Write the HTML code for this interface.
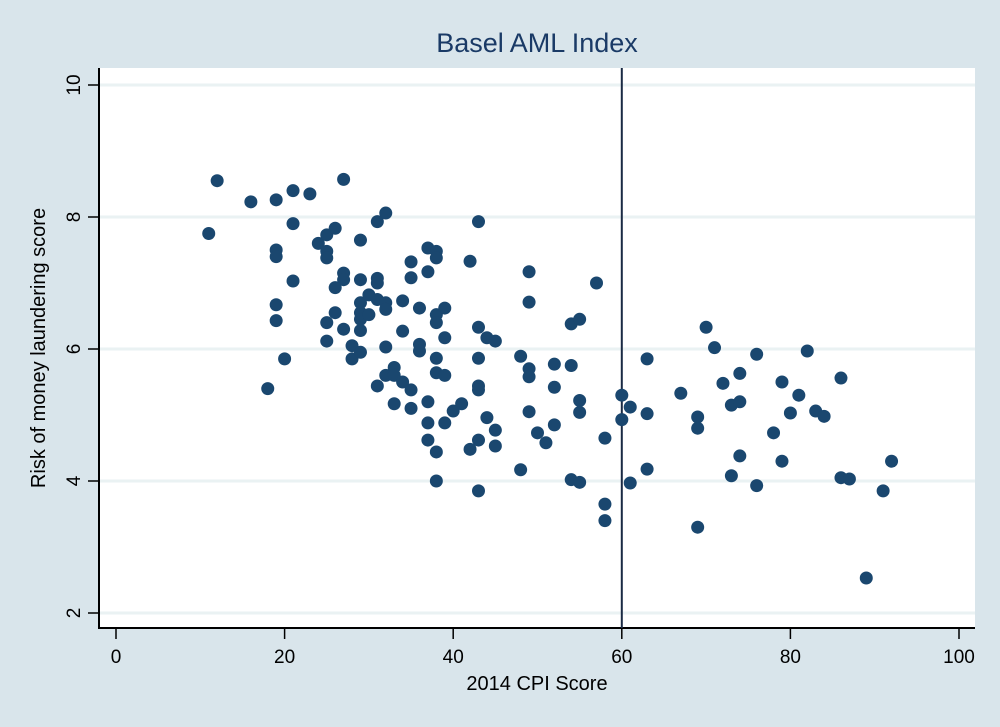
<!DOCTYPE html>
<html><head><meta charset="utf-8"><style>
html,body{margin:0;padding:0;background:#d9e5eb;}
svg{display:block;font-family:"Liberation Sans",sans-serif;}
</style></head><body>
<svg id="chart" width="1000" height="727">
<rect x="0" y="0" width="1000" height="727" fill="#d9e5eb"/>
<rect x="99" y="68" width="876" height="560" fill="#ffffff"/>
<text x="537" y="52" font-size="27" fill="#1a3a66" text-anchor="middle">Basel AML Index</text>
<text x="537" y="690" font-size="20" fill="#000" text-anchor="middle">2014 CPI Score</text>
<text transform="translate(45,348) rotate(-90)" font-size="20" fill="#000" text-anchor="middle">Risk of money laundering score</text>
<g id="grid"></g><g id="axes"></g><g id="points"></g>
</svg>
<script>
const xTicks=[0,20,40,60,80,100];
const yTicks=[2,4,6,8,10];
const cpi=[11,12,16,19,21,23,27,19,19,21,21,19,19,20,18,24,25,25,25,26,27,27,26,25,25,26,27,28,28,29,29,29,29,29,29,29,30,30,31,31,31,31,32,32,32,32,32,31,33,33,33,34,34,34,35,35,35,35,36,36,36,37,37,37,37,37,38,38,38,38,38,38,38,38,39,39,39,39,40,41,42,42,43,43,43,43,43,43,43,44,44,45,45,45,48,48,49,49,49,49,49,50,51,52,52,52,57,54,55,54,55,55,54,55,58,58,58,60,60,61,61,63,63,63,67,69,69,69,70,71,72,73,73,74,74,74,76,76,78,79,79,80,81,82,83,84,86,86,87,89,91,92];
const aml=[7.75,8.55,8.23,8.26,8.4,8.35,8.57,7.5,7.4,7.9,7.03,6.67,6.43,5.85,5.4,7.6,7.73,7.48,7.38,7.83,7.15,7.05,6.93,6.4,6.12,6.55,6.3,6.05,5.85,7.65,7.05,6.7,6.55,6.45,6.28,5.95,6.82,6.52,7.93,7.07,7.0,6.75,8.06,6.7,6.6,6.03,5.6,5.44,5.72,5.6,5.17,6.73,6.27,5.5,7.32,7.08,5.38,5.1,6.62,6.07,5.97,7.53,7.17,5.2,4.88,4.62,7.48,7.38,6.52,6.4,5.86,5.64,4.44,4.0,6.62,6.17,5.6,4.88,5.06,5.17,7.33,4.48,7.93,6.33,5.86,5.44,5.38,4.62,3.85,6.17,4.96,6.12,4.77,4.53,5.89,4.17,7.17,6.71,5.7,5.58,5.05,4.73,4.58,5.77,5.42,4.85,7.0,6.38,6.45,5.75,5.22,5.04,4.02,3.98,4.65,3.65,3.4,5.3,4.93,5.12,3.97,5.85,5.02,4.18,5.33,4.97,4.8,3.3,6.33,6.02,5.48,5.15,4.08,5.63,5.2,4.38,5.92,3.93,4.73,5.5,4.3,5.03,5.3,5.97,5.06,4.98,5.56,4.05,4.03,2.53,3.85,4.3];
const refLine=60;
const NS='http://www.w3.org/2000/svg';
const sx=v=>116+v*8.43;
const sy=v=>613-(v-2)*66;
function mk(tag,attrs,parent){const e=document.createElementNS(NS,tag);for(const k in attrs)e.setAttribute(k,attrs[k]);parent.appendChild(e);return e;}
const grid=document.getElementById('grid'),axes=document.getElementById('axes'),pts=document.getElementById('points');
yTicks.forEach(t=>{
  const g=mk('line',{x1:100,x2:975,y1:sy(t),y2:sy(t),stroke:'#eaf2f3','stroke-width':3},grid);
  
  
  const tk=mk('line',{x1:88,x2:99,y1:sy(t),y2:sy(t),stroke:'#000','stroke-width':1.5},axes);
  
  
  const lb=mk('text',{transform:'translate(80,'+sy(t)+') rotate(-90)','font-size':19,'text-anchor':'middle'},axes);
  lb.textContent=t;
  
  
});
xTicks.forEach(t=>{
  const tk=mk('line',{x1:sx(t),x2:sx(t),y1:628,y2:639,stroke:'#000','stroke-width':1.5},axes);
  
  
  const lb=mk('text',{x:sx(t),y:663,'font-size':19,'text-anchor':'middle'},axes);
  lb.textContent=t;
  
  
});
const ya=mk('line',{x1:99,x2:99,y1:68,y2:629,stroke:'#000','stroke-width':2},axes);


const xa=mk('line',{x1:98,x2:975,y1:628,y2:628,stroke:'#000','stroke-width':2},axes);


const rl=mk('line',{x1:sx(refLine),x2:sx(refLine),y1:68,y2:628,stroke:'#1a2a44','stroke-width':2},axes);


cpi.forEach((v,i)=>{
  const c=mk('circle',{cx:sx(v),cy:sy(aml[i]),r:6.5,fill:'#1a476f'},pts);
  
  
});
</script>
</body></html>
